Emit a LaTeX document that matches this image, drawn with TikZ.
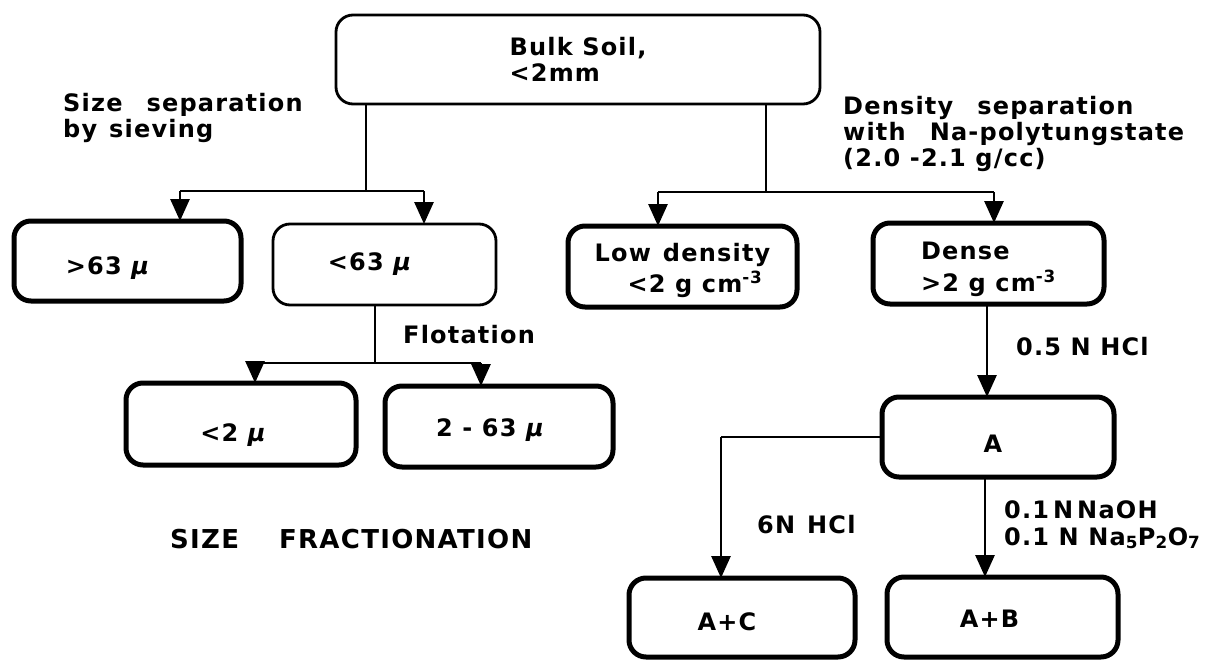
\documentclass[tikz,border=0pt]{standalone}
\usepackage{fontspec}
\setmainfont{DejaVu Sans}[LetterSpace=5]
\usetikzlibrary{positioning, arrows.meta}

\newcommand{\mi}{{\itshape μ}}
\newcommand{\sink}[2]{\raisebox{-#1}[\height][\depth]{#2}}

\begin{document}
\begin{tikzpicture}[x=1pt, y=-1pt,
    font=\fontsize{24}{26}\selectfont\bfseries,
    box/.style={draw, rounded corners=17pt, line width=2.8pt, inner sep=0pt, outer sep=0pt, align=left},
    fatbox/.style={box, line width=5pt},
    lbl/.style={inner sep=0pt, align=left, anchor=base west},
    flow/.style={line width=2.8pt},
    arr/.style={flow, -{Triangle[length=22pt,width=19pt]}}]
\useasboundingbox (0,0) rectangle (1229,659);

\node[box, minimum width=484, minimum height=89] (bulk) at (578,59.5) {Bulk Soil,\\<2mm};

\node[fatbox, minimum width=227, minimum height=80] (coarse) at (127.5,261) {\sink{7pt}{>63 \mi}\hspace*{40pt}};
\node[box, minimum width=223, minimum height=81] (fine) at (384.5,264.5) {<63 \mi\hspace*{30pt}};
\node[fatbox, minimum width=229, minimum height=81, font=\fontsize{24}{31}\selectfont\bfseries] (light) at (682.5,266.5) {\rule{0pt}{26pt}Low\enspace density\\\hspace*{33pt}<2 g cm\textsuperscript{-3}};
\node[fatbox, minimum width=231, minimum height=81, font=\fontsize{24}{32}\selectfont\bfseries] (dense) at (988.5,263.5) {\rule{0pt}{30pt}Dense\\>2 g cm\textsuperscript{-3}};

\node[fatbox, minimum width=230, minimum height=82] (clay) at (241,424) {\sink{11pt}{<2 \mi}\hspace*{16pt}};
\node[fatbox, minimum width=228, minimum height=81] (silt) at (499,426.5) {\sink{4pt}{2 - 63 \mi}\hspace*{18pt}};

\node[fatbox, minimum width=232, minimum height=80] (resA) at (998,437) {\sink{7pt}{A}\hspace*{10pt}};
\node[fatbox, minimum width=226, minimum height=79] (resAC) at (742,617.5) {\sink{4pt}{A+C}\hspace*{30pt}};
\node[fatbox, minimum width=231, minimum height=80] (resAB) at (1002.5,617) {\sink{2pt}{A+B}\hspace*{26pt}};

\node[lbl] (sieve) at (63,137) {Size\quad separation\\by\enspace sieving};
\node[lbl] (denssep) at (843,166) {Density\quad separation\\with\quad Na-polytungstate\\(2.0 -2.1 g/cc)};
\node[lbl] (flot) at (403,343) {Flotation};
\node[lbl] (hcl) at (1016,355) {0.5 N HCl};
\node[lbl] (hclsix) at (757,533) {6N\enspace HCl};
\node[lbl, font=\fontsize{24}{27}\selectfont\bfseries] (naoh) at (1004,545) {0.1\,N\,NaOH\\0.1 N Na\textsubscript{5}P\textsubscript{2}O\textsubscript{7}};
\node[lbl, font=\fontsize{26}{28}\selectfont\bfseries] (title) at (170,548) {SIZE\hspace{40pt}FRACTIONATION};

\coordinate (ls) at (366,191);
\coordinate (l1) at (180,191);
\coordinate (l2) at (424,191);
\coordinate (rs) at (766,192);
\coordinate (r1) at (658,192);
\coordinate (r2) at (994,192);
\coordinate (fs) at (375,363);
\coordinate (f1) at (255,363);
\coordinate (f2) at (481,363);
\coordinate (dd) at (987,340);
\coordinate (aa) at (721,437);
\coordinate (ab) at (985,530);

\draw[flow]
    (bulk.south -| ls) -- (ls)
    (l1) -- (l2)
    (bulk.south -| rs) -- (rs)
    (r1) -- (r2)
    (fine.south -| fs) -- (fs)
    (f1) -- (f2)
    (resA.west) -- (aa)
    ;
\draw[arr] (l1) -- (coarse.north -| l1);
\draw[arr] (l2) -- (fine.north -| l2);
\draw[arr] (r1) -- (light.north -| r1);
\draw[arr] (r2) -- (dense.north -| r2);
\draw[arr] (f1) -- (clay.north -| f1);
\draw[arr] (f2) -- (silt.north -| f2);
\draw[arr] (dense.south -| dd) -- (resA.north -| dd);
\draw[arr] (aa) -- (resAC.north -| aa);
\draw[arr] (resA.south -| ab) -- (resAB.north -| ab);
\end{tikzpicture}
\end{document}
